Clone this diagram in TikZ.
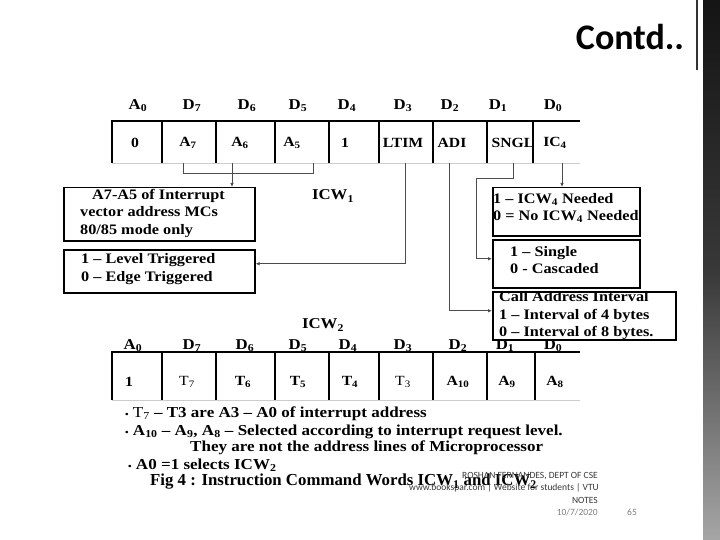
\documentclass[tikz,border=0pt]{standalone}
\usepackage{fontspec}
\setmainfont{Liberation Serif}[FakeStretch=1.12]
\newfontfamily\capfont{Liberation Serif}
\newfontfamily\calfont{Carlito}
\usetikzlibrary{arrows.meta,calc}
\newcommand\sbs[1]{\textsubscript{#1}}
\begin{document}
\begin{tikzpicture}[x=1pt,y=-1pt,
  hdr/.style={font=\bfseries\fontsize{15}{17}\selectfont, inner sep=0},
  cell/.style={font=\bfseries\fontsize{14}{16}\selectfont, inner sep=0},
  box/.style={draw=black, line width=1.5pt, inner sep=0, anchor=north west},
  btxt/.style={font=\bfseries\fontsize{14.5}{17.5}\selectfont, align=left, inner sep=0, anchor=west},
  conn/.style={draw=black!70, line width=0.9pt},
  arr/.style={conn, -{Latex[length=4pt,width=3.5pt]}},
  tline/.style={line width=1.8pt},
  dline/.style={line width=1.2pt},
  fline/.style={black!20, line width=0.8pt},
  bul/.style={font=\bfseries\fontsize{15.2}{17}\selectfont, anchor=west, inner sep=0},
  foot/.style={font=\calfont\fontsize{9.5}{11}\selectfont, anchor=east, inner sep=0, text=black!78},
]
\useasboundingbox (0,0) rectangle (720,540);
\fill[white] (0,0) rectangle (720,540);

% right decoration
\shade[top color=black!92, bottom color=black!35, middle color=black!78] (703,0) rectangle (720,540);
\draw[black!80, line width=1.5pt] (697,0) -- (697,70);
\node[font=\calfont\bfseries\fontsize{36}{40}\selectfont, inner sep=0] (title) at (630,37) {Contd..};

% ---------- ICW1 table ----------
\foreach \t/\x/\n in {A\sbs{0}/138/h1, D\sbs{7}/192/h2, D\sbs{6}/247/h3, D\sbs{5}/298/h4, D\sbs{4}/347/h5, D\sbs{3}/403/h6, D\sbs{2}/450/h7, D\sbs{1}/498/h8, D\sbs{0}/553/h9}
  \node[hdr] (\n) at (\x,106) {\t};
\draw[tline] (111,121) -- (580,121);
\foreach \x in {112,162,216,275,329,379,433,487,533}
  \draw[dline] (\x,121) -- (\x,163);
\draw[fline] (112,163) -- (580,163);
\foreach \t/\x/\n in {0/135/c1, A\sbs{7}/188/c2, A\sbs{6}/240/c3, A\sbs{5}/292/c4, 1/345/c5, LTIM/403/c6, ADI/452/c7, SNGL/513/c8, IC\sbs{4}/555/c9}
  \node[cell] (\n) at (\x,143) {\t};

\node[hdr] (icw1) at (333,196) {ICW\sbs{1}};

% boxes
\node[box, minimum width=191pt, minimum height=53pt] (b1) at (63,187) {};
\node[box, minimum width=191pt, minimum height=43pt] (b2) at (63,249) {};
\node[box, minimum width=147pt, minimum height=48pt] (b3) at (492,187) {};
\node[box, minimum width=147pt, minimum height=48pt] (b4) at (492,239) {};
\node[box, minimum width=183pt, minimum height=48pt] (b5) at (492,291) {};

\node[btxt] (t1) at (80,213) {\hspace{12pt}A7-A5 of Interrupt\\vector address MCs\\80/85 mode only};
\node[btxt] (t2) at (81,269) {1 -- Level Triggered\\0 -- Edge Triggered};
\node[btxt] (t3) at (493,208) {1 -- ICW\sbs{4} Needed\\0 = No ICW\sbs{4} Needed};
\node[btxt] (t4) at (510,260) {1 -- Single\\0 - Cascaded};
\node[btxt] (t5) at (499,316) {Call Address Interval\\1 -- Interval of 4 bytes\\0 -- Interval of 8 bytes.};

% connectors
\coordinate (tA7) at (183,163);
\coordinate (tA6) at (232,163);
\coordinate (tA5) at (313,163);
\coordinate (tLT) at (405,163);
\coordinate (tAD) at (449,163);
\coordinate (tSN) at (513,163);
\coordinate (tIC) at (562,163);
\coordinate (k1) at (476,178);
\draw[conn] (tA7) -- ++(0,10) -| (tA5);
\draw[arr] (tA6) -- (tA6 |- b1.north);
\draw[arr] (tLT) |- ([yshift=7.5pt]b2.east);
\draw[arr] (tAD) |- ([yshift=5pt]b5.west);
\draw[arr] (tSN) |- (k1) |- ([yshift=5pt]b4.west);
\draw[arr] (tIC) -- (tIC |- b3.north);

% ---------- ICW2 table ----------
\node[hdr] (icw2) at (323,325) {ICW\sbs{2}};
\foreach \t/\x/\n in {A\sbs{0}/133/g1, D\sbs{7}/192/g2, D\sbs{6}/245/g3, D\sbs{5}/298/g4, D\sbs{4}/348/g5, D\sbs{3}/403/g6, D\sbs{2}/458/g7, D\sbs{1}/505/g8, D\sbs{0}/553/g9}
  \node[hdr] (\n) at (\x,346) {\t};
\draw[tline] (111,352) -- (580,352);
\foreach \x in {112,162,216,275,329,379,433,487,535}
  \draw[dline] (\x,352) -- (\x,400);
\draw[fline] (112,400) -- (580,400);
\foreach \t/\x/\n in {1/129/d1, {\mdseries T\sbs{7}}/187/d2, T\sbs{6}/243/d3, T\sbs{5}/298/d4, T\sbs{4}/350/d5, {\mdseries T\sbs{3}}/403/d6, A\sbs{10}/458/d7, A\sbs{9}/507/d8, A\sbs{8}/555/d9}
  \node[cell] (\n) at (\x,382) {\t};

% bullets
\node[bul] (l1) at (125,414) {{\fontsize{9}{9}\selectfont•} {\mdseries T\sbs{7}} -- T3 are A3 -- A0 of interrupt address};
\node[bul] (l2) at (125,432) {{\fontsize{9}{9}\selectfont•} A\sbs{10} -- A\sbs{9}, A\sbs{8} -- Selected according to interrupt request level.};
\node[bul] (l3) at (190,448) {They are not the address lines of Microprocessor};
\node[bul] (l4) at (128,465) {{\fontsize{9}{9}\selectfont•} A0 =1 selects ICW\sbs{2}};
\node[bul, font=\capfont\bfseries\fontsize{16.8}{19}\selectfont] (cap) at (150,482) {Fig 4 : Instruction Command Words ICW\sbs{1} and ICW\sbs{2}};

% footer
\node[foot] (f1) at (598,476) {ROSHAN FERNANDES, DEPT OF CSE};
\node[foot] (f2) at (599,488) {www.bookspar.com | Website for students | VTU};
\node[foot] (f3) at (598,500) {NOTES};
\node[foot, text=black!50] (f4) at (598,512) {10/7/2020};
\node[foot, anchor=center, text=black!50] (f5) at (632,512) {65};
\end{tikzpicture}
\end{document}
